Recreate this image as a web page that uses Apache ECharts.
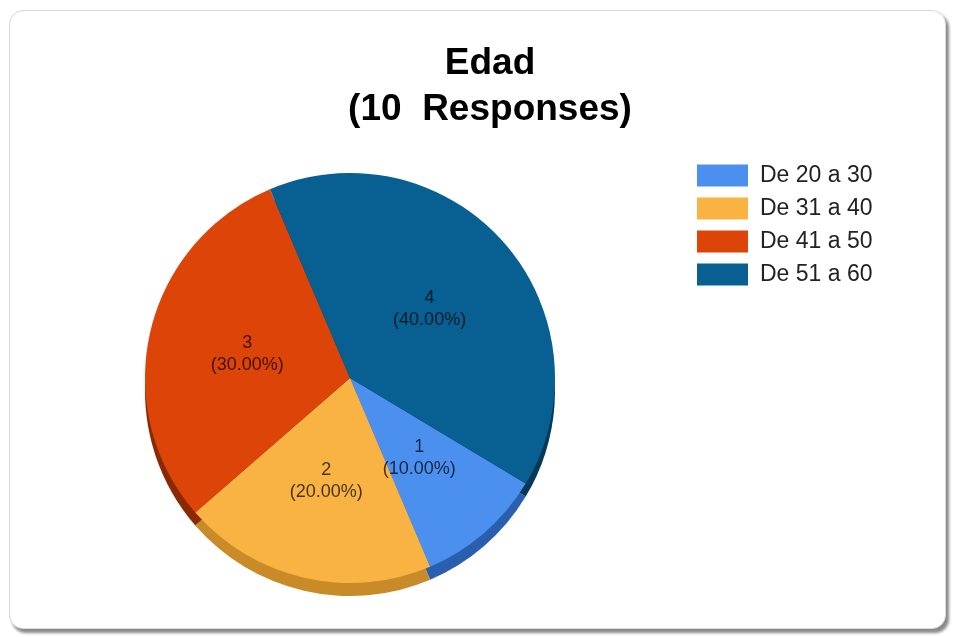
<!DOCTYPE html>
<html>
<head>
<meta charset="utf-8">
<script src="https://cdn.jsdelivr.net/npm/echarts@6/dist/echarts.min.js"></script>
<style>
html,body{margin:0;padding:0;background:#fff;width:953px;height:637px;overflow:hidden;}
#frame{position:absolute;left:9px;top:10px;width:935px;height:617px;border:1px solid #d8d8d8;border-radius:14px;background:#fff;box-shadow:3px 4px 3px #8a8a8a;}
#chart{position:absolute;left:0;top:0;width:953px;height:637px;}
</style>
</head>
<body>
<div id="frame"></div>
<div id="chart"></div>
<script>
const categories = ['De 20 a 30', 'De 31 a 40', 'De 41 a 50', 'De 51 a 60'];
const counts = [1, 2, 3, 4];
const titleText = 'Edad\n(10  Responses)';
const topColors = ['#4b8fef', '#f9b342', '#dd4407', '#086092'];
const sideColors = ['#2a5fb0', '#c98a28', '#8a2a05', '#06385a'];

const chart = echarts.init(document.getElementById('chart'), null, {renderer: 'canvas'});
const mainData = categories.map((c, i) => ({name: c, value: counts[i], itemStyle: {color: topColors[i]}}));
const sideData = categories.map((c, i) => ({name: c, value: counts[i], itemStyle: {color: sideColors[i]}}));
const center = [350, 378];
const radius = 205;

chart.setOption({
  backgroundColor: 'transparent',
  animation: false,
  title: {
    text: titleText,
    left: 485,
    top: 36,
    textAlign: 'center',
    textStyle: {fontFamily: 'Liberation Sans, Arial, sans-serif', fontSize: 37, fontWeight: 'bold', color: '#000', lineHeight: 46}
  },
  legend: {
    orient: 'vertical',
    left: 697,
    top: 164,
    padding: 0,
    itemWidth: 51,
    itemHeight: 22,
    itemGap: 10,
    icon: 'rect',
    data: categories,
    textStyle: {fontFamily: 'Liberation Sans, Arial, sans-serif', fontSize: 23, color: '#222', padding: [0, 0, 0, 7]}
  },
  series: [
    {
      type: 'pie',
      name: 'main',
      z: 3,
      center: center,
      radius: radius,
      startAngle: -31,
      clockwise: true,
      silent: true,
      itemStyle: {borderWidth: 0},
      label: {
        show: true,
        position: 'inside',
        fontFamily: 'Liberation Sans, Arial, sans-serif',
        fontSize: 18,
        lineHeight: 22,
        color: 'rgba(0,0,0,0.72)',
        formatter: p => p.value + '\n(' + p.percent.toFixed(2) + '%)'
      },
      labelLine: {show: false},
      data: mainData
    },
    {
      type: 'pie',
      name: 'side',
      z: 1,
      center: [center[0], center[1] + 13],
      radius: radius,
      startAngle: -31,
      clockwise: true,
      silent: true,
      itemStyle: {borderWidth: 0},
      label: {show: false},
      labelLine: {show: false},
      data: sideData
    }
  ]
});
</script>
</body>
</html>
